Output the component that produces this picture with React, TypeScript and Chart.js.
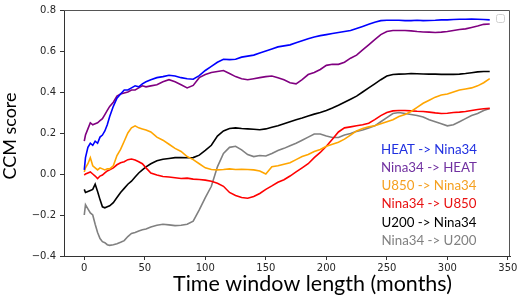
import React, { useEffect, useRef } from "react";
import { Chart, registerables } from "chart.js";

Chart.register(...registerables);

const months = [0, 1, 3, 5, 7, 9, 11, 13, 15, 17, 19, 21, 24, 27, 30, 33, 36, 39, 42, 45, 48, 51, 55, 60, 65, 70, 75, 80, 85, 90, 95, 100, 105, 110, 115, 120, 125, 130, 135, 140, 145, 150, 155, 160, 165, 170, 175, 180, 185, 190, 195, 200, 205, 210, 215, 220, 225, 230, 235, 240, 245, 250, 255, 260, 265, 270, 275, 280, 285, 290, 295, 300, 305, 310, 315, 320, 325, 330, 335];

const heatToNina34 = [0.02, 0.08, 0.13, 0.15, 0.14, 0.16, 0.15, 0.18, 0.19, 0.21, 0.24, 0.28, 0.33, 0.37, 0.39, 0.41, 0.41, 0.42, 0.43, 0.425, 0.44, 0.45, 0.46, 0.47, 0.475, 0.482, 0.478, 0.47, 0.465, 0.462, 0.48, 0.505, 0.525, 0.545, 0.56, 0.558, 0.56, 0.57, 0.575, 0.58, 0.59, 0.6, 0.61, 0.62, 0.625, 0.63, 0.64, 0.65, 0.66, 0.668, 0.675, 0.68, 0.685, 0.69, 0.695, 0.7, 0.71, 0.72, 0.73, 0.74, 0.748, 0.75, 0.75, 0.75, 0.748, 0.748, 0.75, 0.748, 0.749, 0.75, 0.752, 0.752, 0.754, 0.755, 0.755, 0.756, 0.755, 0.754, 0.752];

const nina34ToHeat = [0.16, 0.19, 0.22, 0.25, 0.24, 0.245, 0.25, 0.26, 0.27, 0.29, 0.31, 0.33, 0.35, 0.38, 0.39, 0.395, 0.4, 0.41, 0.41, 0.42, 0.43, 0.425, 0.43, 0.435, 0.45, 0.46, 0.45, 0.435, 0.42, 0.432, 0.47, 0.485, 0.495, 0.5, 0.505, 0.49, 0.475, 0.465, 0.46, 0.465, 0.47, 0.475, 0.478, 0.47, 0.46, 0.445, 0.44, 0.46, 0.485, 0.495, 0.51, 0.53, 0.535, 0.535, 0.545, 0.565, 0.58, 0.605, 0.63, 0.655, 0.68, 0.695, 0.7, 0.7, 0.7, 0.698, 0.695, 0.693, 0.692, 0.69, 0.692, 0.695, 0.7, 0.705, 0.708, 0.715, 0.722, 0.73, 0.732];

const u850ToNina34 = [0.01, 0.03, 0.05, 0.08, 0.04, 0.03, 0.02, 0.03, 0.025, 0.02, 0.025, 0.025, 0.04, 0.09, 0.12, 0.16, 0.2, 0.225, 0.235, 0.225, 0.22, 0.215, 0.205, 0.18, 0.165, 0.145, 0.125, 0.11, 0.085, 0.07, 0.05, 0.03, 0.022, 0.02, 0.022, 0.025, 0.022, 0.023, 0.022, 0.02, 0.015, 0.0, 0.035, 0.04, 0.048, 0.055, 0.07, 0.085, 0.095, 0.11, 0.12, 0.135, 0.145, 0.155, 0.17, 0.19, 0.21, 0.222, 0.23, 0.235, 0.245, 0.255, 0.265, 0.28, 0.29, 0.305, 0.325, 0.345, 0.36, 0.375, 0.385, 0.39, 0.4, 0.41, 0.415, 0.42, 0.43, 0.445, 0.465];

const nina34ToU850 = [-0.005, 0.0, 0.005, 0.01, 0.0, -0.01, -0.022, -0.01, -0.005, 0.005, 0.015, 0.02, 0.03, 0.045, 0.055, 0.06, 0.07, 0.073, 0.068, 0.06, 0.05, 0.03, 0.005, -0.005, -0.012, -0.015, -0.018, -0.022, -0.02, -0.025, -0.027, -0.03, -0.035, -0.045, -0.06, -0.09, -0.105, -0.115, -0.118, -0.11, -0.095, -0.075, -0.058, -0.04, -0.028, -0.01, 0.01, 0.03, 0.05, 0.08, 0.105, 0.135, 0.17, 0.205, 0.225, 0.23, 0.235, 0.24, 0.248, 0.265, 0.285, 0.3, 0.308, 0.31, 0.31, 0.308, 0.306, 0.305, 0.302, 0.298, 0.295, 0.296, 0.3, 0.302, 0.305, 0.31, 0.315, 0.318, 0.32];

const u200ToNina34 = [-0.075, -0.09, -0.085, -0.08, -0.075, -0.05, -0.085, -0.125, -0.16, -0.165, -0.16, -0.155, -0.14, -0.115, -0.09, -0.07, -0.05, -0.035, -0.015, 0.005, 0.02, 0.035, 0.05, 0.065, 0.072, 0.076, 0.08, 0.08, 0.079, 0.08, 0.092, 0.115, 0.14, 0.185, 0.21, 0.222, 0.225, 0.222, 0.22, 0.218, 0.216, 0.22, 0.228, 0.235, 0.245, 0.255, 0.265, 0.273, 0.283, 0.292, 0.3, 0.31, 0.322, 0.335, 0.35, 0.365, 0.38, 0.4, 0.42, 0.44, 0.46, 0.478, 0.485, 0.487, 0.488, 0.49, 0.489, 0.488, 0.487, 0.487, 0.486, 0.486, 0.486, 0.487, 0.49, 0.494, 0.498, 0.5, 0.5];

const nina34ToU200 = [-0.2, -0.15, -0.17, -0.19, -0.2, -0.245, -0.285, -0.315, -0.33, -0.335, -0.345, -0.348, -0.345, -0.34, -0.333, -0.325, -0.305, -0.29, -0.285, -0.278, -0.272, -0.268, -0.258, -0.25, -0.245, -0.248, -0.252, -0.25, -0.245, -0.23, -0.175, -0.115, -0.06, 0.035, 0.1, 0.13, 0.135, 0.118, 0.095, 0.085, 0.09, 0.088, 0.1, 0.115, 0.125, 0.138, 0.15, 0.165, 0.18, 0.195, 0.195, 0.185, 0.178, 0.178, 0.19, 0.198, 0.208, 0.215, 0.225, 0.235, 0.255, 0.275, 0.295, 0.3, 0.295, 0.29, 0.285, 0.278, 0.265, 0.255, 0.245, 0.235, 0.24, 0.255, 0.27, 0.285, 0.295, 0.31, 0.32];

const seriesLabels = ["HEAT -> Nina34", "Nina34 -> HEAT", "U850 -> Nina34", "Nina34 -> U850", "U200 -> Nina34", "Nina34 -> U200"];
const seriesValues = [heatToNina34, nina34ToHeat, u850ToNina34, nina34ToU850, u200ToNina34, nina34ToU200];
const seriesColors = ["#0000ff", "#800080", "#ffa500", "#ff0000", "#000000", "#808080"];
const legendTextColors = ["#2030e0", "#7030a0", "#f5a020", "#e81010", "#000000", "#808080"];

const xTicks = [0, 50, 100, 150, 200, 250, 300, 350];
const yTicks = [-0.4, -0.2, 0.0, 0.2, 0.4, 0.6, 0.8];
const xTitle = "Time window length (months)";
const yTitle = "CCM score";

function fitSize(ctx: CanvasRenderingContext2D, text: string, family: string, target: number) {
  ctx.font = `20px ${family}`;
  const w = ctx.measureText(text).width;
  return (20 * target) / w;
}

const overlayPlugin = {
  id: "overlay",
  afterDraw(chart: any) {
    const ctx: CanvasRenderingContext2D = chart.ctx;
    const a = chart.chartArea;
    ctx.save();
    // top & right spines
    ctx.strokeStyle = "#555";
    ctx.lineWidth = 1;
    ctx.beginPath();
    ctx.moveTo(a.left, a.top + 0.5);
    ctx.lineTo(a.right - 0.5, a.top + 0.5);
    ctx.lineTo(a.right - 0.5, a.bottom);
    ctx.stroke();
    // empty legend box
    ctx.strokeStyle = "#d0d0d0";
    ctx.beginPath();
    const bx = a.right - 13.5, by = a.top + 4.5, bs = 8;
    ctx.moveTo(bx + 2, by);
    ctx.arcTo(bx + bs, by, bx + bs, by + bs, 2);
    ctx.arcTo(bx + bs, by + bs, bx, by + bs, 2);
    ctx.arcTo(bx, by + bs, bx, by, 2);
    ctx.arcTo(bx, by, bx + bs, by, 2);
    ctx.stroke();
    // text legend
    const fam = "Lato, 'Open Sans', sans-serif";
    const ls = fitSize(ctx, seriesLabels[0], fam, 96);
    ctx.font = `${ls}px ${fam}`;
    ctx.textAlign = "center";
    ctx.textBaseline = "alphabetic";
    seriesLabels.forEach((lab, i) => {
      ctx.fillStyle = legendTextColors[i];
      ctx.fillText(lab, 429, 149 + 18.2 * i + ls * 0.36);
    });
    // axis titles
    ctx.fillStyle = "#000";
    const xs = fitSize(ctx, xTitle, fam, 279);
    ctx.font = `${xs}px ${fam}`;
    ctx.fillText(xTitle, 312.5, 291);
    const ys = fitSize(ctx, yTitle, fam, 87);
    ctx.font = `${ys}px ${fam}`;
    ctx.translate(15.5, 136);
    ctx.rotate(-Math.PI / 2);
    ctx.fillText(yTitle, 0, 0);
    ctx.restore();
  },
};

export default function App() {
  const ref = useRef<HTMLCanvasElement | null>(null);
  useEffect(() => {
    if (!ref.current) return;
    const datasets = seriesLabels.map((lab, i) => ({
      label: lab,
      data: months.map((m, j) => ({ x: m, y: seriesValues[i][j] })),
      borderColor: seriesColors[i],
      backgroundColor: seriesColors[i],
      borderWidth: 1.6,
      pointRadius: 0,
      tension: 0,
      fill: false,
    }));
    const tickFont = { family: "'DejaVu Sans', sans-serif", size: 10 };
    const chart = new Chart(ref.current, {
      type: "line",
      data: { datasets },
      options: {
        animation: false,
        responsive: false,
        maintainAspectRatio: false,
        layout: { padding: { top: 3, right: 10, left: 0, bottom: 0 } },
        plugins: { legend: { display: false }, tooltip: { enabled: false } },
        scales: {
          x: {
            type: "linear",
            min: -16.75,
            max: 351.75,
            afterBuildTicks: (axis: any) => {
              axis.ticks = xTicks.map((v) => ({ value: v }));
            },
            afterFit: (s: any) => {
              s.height = 41;
            },
            grid: { drawOnChartArea: false, drawTicks: true, tickLength: 4, color: "#333" },
            border: { display: true, color: "#333", width: 1 },
            ticks: { font: tickFont, color: "#262626", padding: 2, maxRotation: 0, autoSkip: false, callback: (v: any) => String(v) },
          },
          y: {
            type: "linear",
            min: -0.4,
            max: 0.8,
            afterBuildTicks: (axis: any) => {
              axis.ticks = yTicks.map((v) => ({ value: v }));
            },
            afterFit: (s: any) => {
              s.width = 64;
            },
            grid: { drawOnChartArea: false, drawTicks: true, tickLength: 4, color: "#333" },
            border: { display: true, color: "#333", width: 1 },
            ticks: {
              font: tickFont,
              color: "#262626",
              padding: 4,
              autoSkip: false,
              callback: (v: any) => Number(v).toFixed(1).replace("-", "\u2212"),
            },
          },
        },
      },
      plugins: [overlayPlugin],
    });
    return () => chart.destroy();
  }, []);
  return (
    <div style={{ position: "fixed", left: 0, top: 0, width: 520, height: 297, background: "#fff" }}>
      <canvas ref={ref} width={520} height={297} style={{ width: 520, height: 297 }} />
    </div>
  );
}
